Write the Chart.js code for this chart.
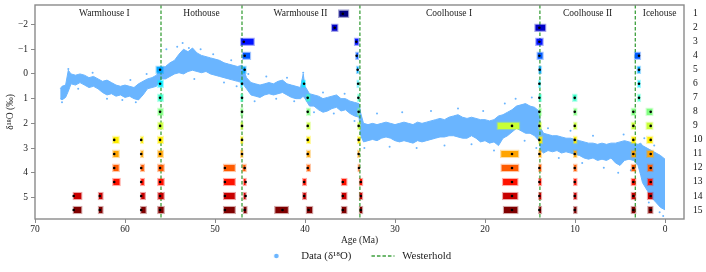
<!DOCTYPE html>
<html lang="en">
<head>
<meta charset="UTF-8">
<script src="https://cdn.jsdelivr.net/npm/chart.js"></script>
<style>
  html, body { margin: 0; padding: 0; background: #fff; }
</style>
</head>
<body>
<canvas id="myChart" width="706" height="272"></canvas>
<script>
// ---- data ----
// envelope of the d18O cloud: age (Ma), lightest edge, heaviest edge
const envAge = [67.2,67.0,66.6,66.3,66.0,65.5,65.0,64.5,64.0,63.5,63.0,62.5,62.0,61.5,61.0,60.5,60.0,59.5,59.0,58.5,58.0,57.5,57.0,56.5,56.0,
  55.5,55.0,54.5,54.0,53.5,53.0,52.5,52.0,51.5,51.0,50.5,50.0,49.5,49.0,48.5,48.0,47.5,47.0,
  46.5,46.0,45.5,45.0,44.5,44.0,43.5,43.0,42.5,42.0,41.5,41.0,40.5,40.2,40.0,39.5,39.0,38.5,38.0,37.5,37.0,36.5,36.0,35.5,35.0,34.5,34.0,
  33.8,33.5,33.0,32.5,32.0,31.5,31.0,30.5,30.0,29.5,29.0,28.5,28.0,27.5,27.0,26.5,26.0,25.5,25.0,24.5,24.0,23.5,23.0,22.5,22.0,21.5,21.0,20.5,20.0,19.5,19.0,18.5,18.0,17.5,17.0,16.5,16.0,15.5,15.0,14.5,14.0,
  13.8,13.5,13.0,12.5,12.0,11.5,11.0,10.5,10.0,9.5,9.0,8.5,8.0,7.5,7.0,6.5,6.0,5.5,5.0,4.5,4.0,3.5,3.0,
  2.7,2.5,2.0,1.5,1.0,0.5,0.0];
const envTop = [0.6,0.5,0.45,-0.15,0.0,0.05,0.0,0.05,0.15,0.1,0.2,0.3,0.25,0.35,0.45,0.5,0.45,0.5,0.55,0.4,0.3,0.2,0.15,0.05,-0.25,
  -0.3,-0.45,-0.55,-0.8,-1.0,-0.9,-1.05,-0.85,-0.75,-0.7,-0.65,-0.6,-0.55,-0.45,-0.4,-0.35,-0.3,-0.35,
  0.15,0.35,0.4,0.45,0.4,0.35,0.4,0.3,0.25,0.4,0.45,0.5,0.55,0.0,0.5,0.8,0.85,0.9,1.0,0.95,0.9,0.85,1.0,1.0,1.1,1.15,1.2,
  1.6,2.0,2.05,2.0,2.05,2.0,1.95,2.0,2.05,2.0,1.95,2.0,2.05,1.95,2.0,1.95,1.9,1.85,1.8,1.85,1.75,1.7,1.65,1.75,1.8,1.75,1.8,1.85,1.85,1.9,1.85,1.7,1.65,1.55,1.45,1.3,1.25,1.2,1.3,1.35,1.5,
  2.2,2.4,2.45,2.5,2.5,2.55,2.6,2.6,2.65,2.7,2.75,2.8,2.8,2.85,2.8,2.85,2.8,2.8,2.75,2.7,2.75,2.8,2.85,
  2.8,2.9,3.0,3.1,3.2,3.3,3.45];
const envBottom = [1.0,1.05,0.95,0.7,0.4,0.45,0.35,0.45,0.55,0.5,0.6,0.75,0.85,0.8,0.9,0.85,0.95,0.9,1.0,1.05,0.85,0.6,0.55,0.5,0.2,
  0.2,0.1,0.0,-0.05,0.0,-0.1,-0.15,-0.1,-0.05,-0.1,0.0,0.05,0.1,0.15,0.2,0.25,0.3,0.35,
  0.6,0.85,0.9,0.95,0.85,0.8,0.85,0.8,0.75,0.85,0.95,1.0,1.0,0.9,1.0,1.3,1.3,1.45,1.55,1.5,1.4,1.35,1.5,1.45,1.6,1.7,1.75,
  2.5,2.75,2.7,2.65,2.7,2.6,2.55,2.6,2.7,2.75,2.7,2.75,2.8,2.7,2.75,2.7,2.65,2.6,2.55,2.55,2.5,2.5,2.55,2.6,2.6,2.5,2.6,2.75,2.7,2.8,2.75,2.9,2.6,2.5,2.35,2.2,2.3,2.4,2.4,2.5,2.7,
  3.1,3.2,3.1,3.15,3.1,3.2,3.15,3.2,3.25,3.3,3.4,3.45,3.4,3.5,3.45,3.5,3.4,3.6,3.7,3.5,3.45,3.5,3.7,
  4.1,4.4,4.7,5.0,5.2,5.4,5.5];

// scattered samples outside the dense band
const outAge = [67.0,66.3,65.2,63.6,62.0,60.3,59.4,58.8,57.6,55.4,54.2,53.6,52.9,52.3,51.6,50.2,49.0,48.2,47.6,
  46.3,45.6,44.3,43.2,42.0,41.2,40.2,39.0,38.0,36.8,35.6,34.5,
  33.4,32.0,30.6,29.2,27.6,26.0,24.5,23.0,21.5,20.2,19.0,17.8,16.6,15.6,14.8,14.3,
  13.0,11.8,10.5,9.2,8.0,6.8,5.2,4.6,3.8,2.3,1.8,1.2,0.6,0.2];
const outVal = [1.15,-0.2,0.6,-0.05,1.0,1.05,0.25,1.15,0.0,-1.0,-1.1,-1.25,-1.05,0.2,-1.0,-0.8,0.35,-0.55,0.5,
  0.0,1.1,0.1,1.0,0.15,1.1,-0.05,1.55,0.75,1.6,0.8,1.9,
  3.0,1.6,2.95,1.55,3.0,1.5,2.9,1.4,2.85,1.5,3.1,1.2,1.0,2.7,0.95,3.0,
  2.2,3.4,2.3,3.6,2.5,3.8,4.0,2.45,3.9,2.6,5.2,2.9,5.6,5.75];

// Westerhold boundaries (Ma) and climate state labels
const westerhold = [56.0, 47.0, 33.9, 13.9, 3.3];
const periodNames = ['Warmhouse I', 'Hothouse', 'Warmhouse II', 'Coolhouse I', 'Coolhouse II', 'Icehouse'];
const periodAges = [62.3, 51.5, 40.5, 24.0, 8.6, 0.6];

// detected changes per level 1..15: dot age, box start, box end (Ma)
const dotAge = [
  [35.8],
  [36.7, 13.96],
  [46.8, 34.3, 13.96],
  [46.7, 34.26, 13.96, 2.89],
  [56.1, 46.7, 34.15, 13.93, 2.89],
  [56.1, 47.0, 40.1, 34.1, 13.96, 2.89],
  [56.1, 47.0, 39.7, 34.07, 13.96, 10.03, 2.89],
  [56.1, 47.0, 39.7, 34.04, 13.96, 10.03, 3.52, 1.59],
  [56.1, 47.0, 39.7, 34.04, 17.0, 13.96, 10.03, 3.52, 1.59],
  [61.2, 58.2, 56.1, 47.0, 39.7, 34.04, 13.96, 10.03, 3.52, 1.59],
  [61.2, 58.2, 56.1, 47.0, 39.7, 34.04, 17.0, 13.96, 10.03, 3.52, 1.59],
  [61.2, 58.2, 56.1, 48.9, 46.7, 39.7, 34.0, 17.0, 13.96, 10.03, 3.52, 1.59],
  [61.2, 58.2, 56.1, 48.9, 46.6, 40.1, 35.8, 33.8, 17.0, 13.96, 10.03, 3.52, 1.59],
  [65.7, 62.8, 58.2, 56.1, 48.9, 46.6, 40.1, 35.8, 33.8, 17.0, 13.96, 10.03, 3.52, 1.59],
  [65.7, 62.8, 58.2, 56.1, 48.9, 46.7, 42.5, 39.6, 35.8, 33.8, 17.0, 13.96, 10.03, 3.52, 1.59]
];
const boxStart = [
  [36.3],
  [37.1, 14.5],
  [47.2, 34.55, 14.4],
  [47.0, 34.4, 14.26, 3.44],
  [56.6, 46.97, 34.33, 14.07, 3.15],
  [56.4, 47.2, 40.4, 34.26, 14.07, 3.07],
  [56.4, 47.2, 39.9, 34.2, 14.07, 10.3, 3.07],
  [56.4, 47.2, 39.85, 34.2, 14.07, 10.2, 3.8, 2.15],
  [56.4, 47.2, 39.85, 34.2, 18.7, 14.07, 10.2, 3.8, 2.15],
  [61.4, 58.3, 56.41, 47.2, 39.85, 34.2, 14.07, 10.2, 3.8, 2.07],
  [61.4, 58.3, 56.41, 47.2, 39.85, 34.2, 18.3, 14.07, 10.2, 3.8, 2.07],
  [61.4, 58.3, 56.4, 49.1, 46.97, 39.85, 34.15, 18.26, 14.07, 10.2, 3.8, 2.0],
  [61.4, 58.3, 56.4, 49.1, 46.9, 40.3, 36.0, 34.0, 18.1, 14.07, 10.2, 3.8, 2.0],
  [65.8, 63.0, 58.3, 56.4, 49.1, 46.9, 40.3, 36.0, 34.0, 18.1, 14.07, 10.2, 3.8, 2.0],
  [65.8, 63.0, 58.3, 56.4, 49.1, 46.9, 43.4, 39.9, 36.0, 34.0, 18.0, 14.07, 10.2, 3.8, 1.95]
];
const boxEnd = [
  [35.1],
  [36.3, 13.2],
  [45.6, 33.97, 13.5],
  [46.0, 34.0, 13.5, 2.67],
  [55.7, 46.5, 33.97, 13.67, 2.67],
  [55.7, 46.9, 39.9, 33.97, 13.8, 2.7],
  [55.7, 46.85, 39.4, 33.9, 13.67, 9.74, 2.67],
  [55.7, 46.85, 39.37, 33.9, 13.67, 9.74, 3.2, 1.3],
  [55.7, 46.85, 39.37, 33.81, 16.1, 13.67, 9.74, 3.26, 1.3],
  [60.6, 57.9, 55.7, 46.85, 39.37, 33.81, 13.59, 9.74, 3.2, 1.3],
  [60.6, 57.9, 55.7, 46.85, 39.37, 33.9, 16.2, 13.67, 9.74, 3.2, 1.22],
  [60.6, 57.8, 55.6, 47.7, 46.5, 39.37, 33.9, 16.2, 13.67, 9.74, 3.2, 1.3],
  [60.5, 57.8, 55.6, 47.7, 46.5, 39.8, 35.3, 33.55, 16.3, 13.67, 9.74, 3.2, 1.3],
  [64.75, 62.4, 57.7, 55.6, 47.7, 46.5, 39.8, 35.3, 33.55, 16.3, 13.67, 9.74, 3.2, 1.3],
  [64.75, 62.4, 57.6, 55.6, 47.7, 46.4, 41.8, 39.1, 35.3, 33.55, 16.3, 13.67, 9.74, 3.2, 1.3]
];

// ---- styling ----
const FONT = "'Liberation Serif', 'DejaVu Serif', serif";
const BLUE = '#6ab5ff';
const GREEN = 'rgba(40,150,40,0.9)';
const SPINE = '#8a8a8a';
const Y_MIN = -2.79, Y_MAX = 5.87;

function jet(t) {
  const c = v => Math.round(255 * Math.max(0, Math.min(1, v)));
  return [c(1.5 - Math.abs(4 * t - 3)), c(1.5 - Math.abs(4 * t - 2)), c(1.5 - Math.abs(4 * t - 1))];
}

let boxData = [], boxFill = [], boxEdge = [], dotData = [];
dotAge.forEach((row, i) => {
  const level = i + 1;
  const [r, g, b] = jet(i / 14);
  row.forEach((a, j) => {
    boxData.push({ y: level, x: [boxStart[i][j], boxEnd[i][j]] });
    boxFill.push(`rgb(${r},${g},${b})`);
    boxEdge.push(`rgba(${r},${g},${b},0.35)`);
    dotData.push({ x: a, y: level });
  });
});

let westData = [];
westerhold.forEach(a => {
  westData.push({ x: a, y: Y_MIN }, { x: a, y: Y_MAX }, { x: a, y: null });
});

// legend icons (box width 41)
function makeDotIcon() {
  const c = document.createElement('canvas');
  c.width = 41; c.height = 10;
  const g = c.getContext('2d');
  g.fillStyle = BLUE;
  g.beginPath(); g.arc(21.5, 5, 2.3, 0, Math.PI * 2); g.fill();
  return c;
}
function makeLineIcon() {
  const c = document.createElement('canvas');
  c.width = 41; c.height = 6;
  const g = c.getContext('2d');
  g.strokeStyle = GREEN; g.lineWidth = 1.4;
  g.setLineDash([3.5, 2]);
  g.beginPath(); g.moveTo(15.5, 3); g.lineTo(38.5, 3); g.stroke();
  return c;
}

const framePlugin = {
  id: 'frame',
  afterDatasetsDraw(chart) {
    const { ctx, chartArea: a, scales } = chart;
    ctx.save();
    ctx.fillStyle = '#222';
    ctx.font = `9.5px ${FONT}`;
    ctx.textAlign = 'center';
    ctx.textBaseline = 'middle';
    periodNames.forEach((n, i) => {
      ctx.fillText(n, scales.x.getPixelForValue(periodAges[i]), scales.y.getPixelForValue(-2.45));
    });
    ctx.strokeStyle = SPINE;
    ctx.lineWidth = 1.4;
    ctx.strokeRect(a.left, a.top, a.right - a.left, a.bottom - a.top);
    ctx.restore();
  }
};

const tickFont = { family: FONT, size: 9.5 };
const noPad = s => { s.paddingTop = 0; s.paddingBottom = 0; s.paddingLeft = 0; s.paddingRight = 0; };

new Chart(document.getElementById('myChart'), {
  type: 'scatter',
  data: {
    datasets: [
      {
        type: 'line', label: 'top',
        data: envAge.map((a, i) => ({ x: a, y: envTop[i] })),
        borderColor: BLUE, borderWidth: 1, pointRadius: 0, fill: false, order: 6
      },
      {
        type: 'line', label: 'bottom',
        data: envAge.map((a, i) => ({ x: a, y: envBottom[i] })),
        borderColor: BLUE, borderWidth: 1, pointRadius: 0,
        fill: '-1', backgroundColor: BLUE, order: 6
      },
      {
        label: 'Data (δ¹⁸O)',
        data: outAge.map((a, i) => ({ x: a, y: outVal[i] })),
        backgroundColor: BLUE, pointRadius: 1, pointBorderWidth: 0, order: 5
      },
      {
        type: 'line', label: 'Westerhold',
        data: westData,
        borderColor: GREEN, borderWidth: 1.3, borderDash: [3.5, 2],
        pointRadius: 0, fill: false, spanGaps: false, order: 4
      },
      {
        type: 'bar', label: 'changes',
        indexAxis: 'y', xAxisID: 'x', yAxisID: 'y2',
        data: boxData,
        backgroundColor: boxFill, borderColor: boxEdge,
        borderWidth: 1.3, borderSkipped: false, barThickness: 8, grouped: false,
        order: 3
      },
      {
        label: 'dots', yAxisID: 'y2',
        data: dotData,
        backgroundColor: '#000', pointRadius: 1.3, pointBorderWidth: 0, order: 2
      }
    ]
  },
  options: {
    responsive: false,
    animation: false,
    devicePixelRatio: 1,
    layout: { padding: { top: 5, bottom: 0.6 } },
    scales: {
      x: {
        type: 'linear', position: 'bottom', reverse: true, offset: false,
        min: -2.11, max: 70,
        ticks: { stepSize: 10, includeBounds: false, font: tickFont, color: '#222', padding: 1, maxRotation: 0 },
        grid: { drawOnChartArea: false, tickLength: 4, tickColor: SPINE, offset: false },
        border: { display: false },
        title: { display: true, text: 'Age (Ma)', font: tickFont, color: '#222', padding: { top: 0, bottom: 0 } },
        afterFit: s => { noPad(s); s.height = 272 - 0.6 - 219 - s.chart.legend.height; }
      },
      y: {
        type: 'linear', position: 'left', reverse: true, offset: false,
        min: Y_MIN, max: Y_MAX,
        ticks: {
          stepSize: 1, includeBounds: false, font: tickFont, color: '#222', padding: 3,
          callback: v => (v < 0 ? '\u2212' + Math.abs(v) : String(v))
        },
        grid: { drawOnChartArea: false, tickLength: 4, tickColor: SPINE, offset: false },
        border: { display: false },
        title: { display: true, text: 'δ¹⁸O (‰)', font: tickFont, color: '#222', padding: { top: 5, bottom: 0 } },
        afterFit: s => { noPad(s); s.width = 35; }
      },
      y2: {
        type: 'linear', position: 'right', reverse: true, offset: false,
        min: 0.38, max: 15.64,
        ticks: { stepSize: 1, includeBounds: false, autoSkip: false, font: tickFont, color: '#111', padding: 1 },
        grid: { display: false, offset: false },
        border: { display: false },
        afterFit: s => { noPad(s); s.width = 22; }
      }
    },
    plugins: {
      tooltip: { enabled: false },
      legend: {
        position: 'bottom',
        labels: {
          usePointStyle: true, pointStyleWidth: 41, padding: 4.5,
          font: { family: FONT, size: 10.8 }, color: '#222',
          generateLabels: () => [
            { text: 'Data (δ¹⁸O)', pointStyle: makeDotIcon(), fillStyle: BLUE, strokeStyle: BLUE, lineWidth: 0, hidden: false, datasetIndex: 2, fontColor: '#222' },
            { text: 'Westerhold', pointStyle: makeLineIcon(), fillStyle: GREEN, strokeStyle: GREEN, lineWidth: 0, hidden: false, datasetIndex: 3, fontColor: '#222' }
          ]
        }
      }
    }
  },
  plugins: [framePlugin]
});
</script>
</body>
</html>
